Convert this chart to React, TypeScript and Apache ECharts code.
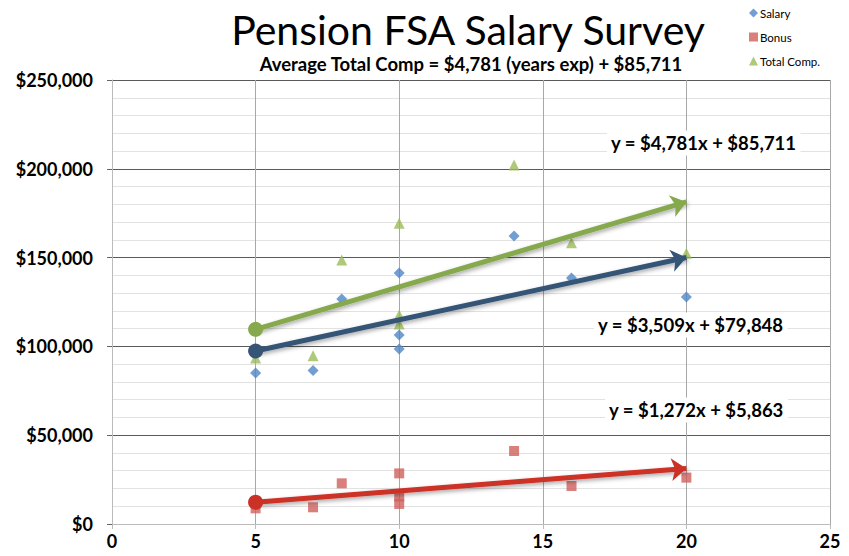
import React, { useEffect, useRef } from "react";
import * as echarts from "echarts";

const salaryData: [number, number][] = [
  [5, 85000], [7, 86500], [8, 126700], [10, 141300], [10, 106400], [10, 98500],
  [14, 162200], [16, 138500], [20, 127800],
];
const bonusData: [number, number][] = [
  [5, 8800], [7, 9400], [8, 22900], [10, 28500], [10, 15400], [10, 11300],
  [14, 41100], [16, 21400], [20, 26100],
];
const totalData: [number, number][] = [
  [5, 93500], [7, 94800], [8, 148700], [10, 169300], [10, 117700], [10, 112600],
  [14, 202100], [16, 158400], [20, 152400],
];
// trend line: [slope, intercept]
const salaryTrend = [3509, 79848];
const bonusTrend = [1272, 5863];
const totalTrend = [4781, 85711];
const trendRange = [5, 20];
const xTicks = [0, 5, 10, 15, 20, 25];
const yTicks = [0, 50000, 100000, 150000, 200000, 250000];

const fmtMoney = (v: number) => "$" + v.toLocaleString("en-US");

const FONT = "Lato";

function trendMark(coef: number[], color: string) {
  const a = trendRange[0];
  const b = trendRange[1];
  return {
    silent: true,
    animation: false,
    symbol: ["circle", "arrow"],
    symbolSize: [17, 15],
    label: { show: false },
    lineStyle: {
      color,
      width: 5,
      type: "solid",
      shadowBlur: 4,
      shadowColor: "rgba(0,0,0,0.35)",
      shadowOffsetX: 1,
      shadowOffsetY: 2,
    },
    itemStyle: { color },
    emphasis: { disabled: true },
    data: [[
      { coord: [a, coef[0] * a + coef[1]] },
      { coord: [b, coef[0] * b + coef[1]] },
    ]],
  };
}

export default function App() {
  const ref = useRef<HTMLDivElement>(null);
  useEffect(() => {
    if (!ref.current) return;
    const chart = echarts.init(ref.current, undefined, { renderer: "svg" });
    const eqStyle = (text: string) => ({
      text,
      font: `bold 18.5px ${FONT}`,
      fill: "#000",
      backgroundColor: "#fff",
      padding: [3, 4],
      verticalAlign: "middle",
    });
    chart.setOption({
      animation: false,
      backgroundColor: "#fff",
      grid: { left: 112, right: 19, top: 80, bottom: 32, containLabel: false },
      legend: {
        orient: "vertical",
        left: 744,
        top: 2,
        itemWidth: 9,
        itemHeight: 9,
        itemGap: 12,
        textStyle: { fontFamily: FONT, fontSize: 11.5, color: "#000", padding: [0, 0, 0, -3] },
        data: ["Salary", "Bonus", "Total Comp."],
      },
      xAxis: {
        type: "value",
        min: xTicks[0],
        max: xTicks[xTicks.length - 1],
        interval: 5,
        axisLine: { show: true, lineStyle: { color: "#bbb", width: 1 } },
        axisTick: { show: true, length: 5, lineStyle: { color: "#bbb" } },
        axisLabel: {
          fontFamily: FONT,
          fontWeight: "bold",
          fontSize: 18,
          color: "#000",
          margin: 8,
        },
        splitLine: { show: true, lineStyle: { color: "#a8a8a8", width: 1 } },
      },
      yAxis: {
        type: "value",
        min: yTicks[0],
        max: yTicks[yTicks.length - 1],
        interval: 50000,
        axisLine: { show: true, lineStyle: { color: "#bbb", width: 1 } },
        axisTick: { show: true, length: 5, lineStyle: { color: "#666" } },
        minorTick: { show: false, splitNumber: 5 },
        minorSplitLine: { show: true, lineStyle: { color: "#e2e2e2", width: 1 } },
        axisLabel: {
          fontFamily: FONT,
          fontWeight: "bold",
          fontSize: 18,
          color: "#000",
          margin: 19,
          formatter: (v: number) => fmtMoney(v),
        },
        splitLine: { show: true, lineStyle: { color: "#5a5a5a", width: 1 } },
      },
      series: [
        {
          name: "Salary",
          type: "scatter",
          symbol: "diamond",
          symbolSize: 11,
          itemStyle: { color: "#4F86C6" },
          data: salaryData,
          z: 3,
          markLine: trendMark(salaryTrend, "#365476"),
        },
        {
          name: "Bonus",
          type: "scatter",
          symbol: "rect",
          symbolSize: 10,
          itemStyle: { color: "#D0605C" },
          data: bonusData,
          z: 3,
          markLine: trendMark(bonusTrend, "#CC3126"),
        },
        {
          name: "Total Comp.",
          type: "scatter",
          symbol: "triangle",
          symbolSize: 11,
          itemStyle: { color: "#9BBB59" },
          data: totalData,
          z: 3,
          markLine: trendMark(totalTrend, "#86A94E"),
        },
      ],
      graphic: [
        {
          type: "text",
          x: 468,
          y: 29,
          style: {
            text: "Pension FSA Salary Survey",
            font: `normal 41px ${FONT}`,
            fill: "#000",
            align: "center",
            verticalAlign: "middle",
          },
        },
        {
          type: "text",
          x: 471,
          y: 64,
          style: {
            text: "Average Total Comp = $4,781 (years exp) + $85,711",
            font: `bold 18.5px ${FONT}`,
            fill: "#000",
            align: "center",
            verticalAlign: "middle",
          },
        },
        {
          type: "text",
          x: 607,
          y: 143,
          z: 10,
          style: eqStyle("y = $4,781x + $85,711"),
        },
        {
          type: "text",
          x: 594,
          y: 325,
          z: 10,
          style: eqStyle("y = $3,509x + $79,848"),
        },
        {
          type: "text",
          x: 605,
          y: 410,
          z: 10,
          style: eqStyle("y = $1,272x + $5,863"),
        },
      ],
    });
    return () => chart.dispose();
  }, []);
  return <div ref={ref} style={{ width: 849, height: 556, margin: -8 }} />;
}
